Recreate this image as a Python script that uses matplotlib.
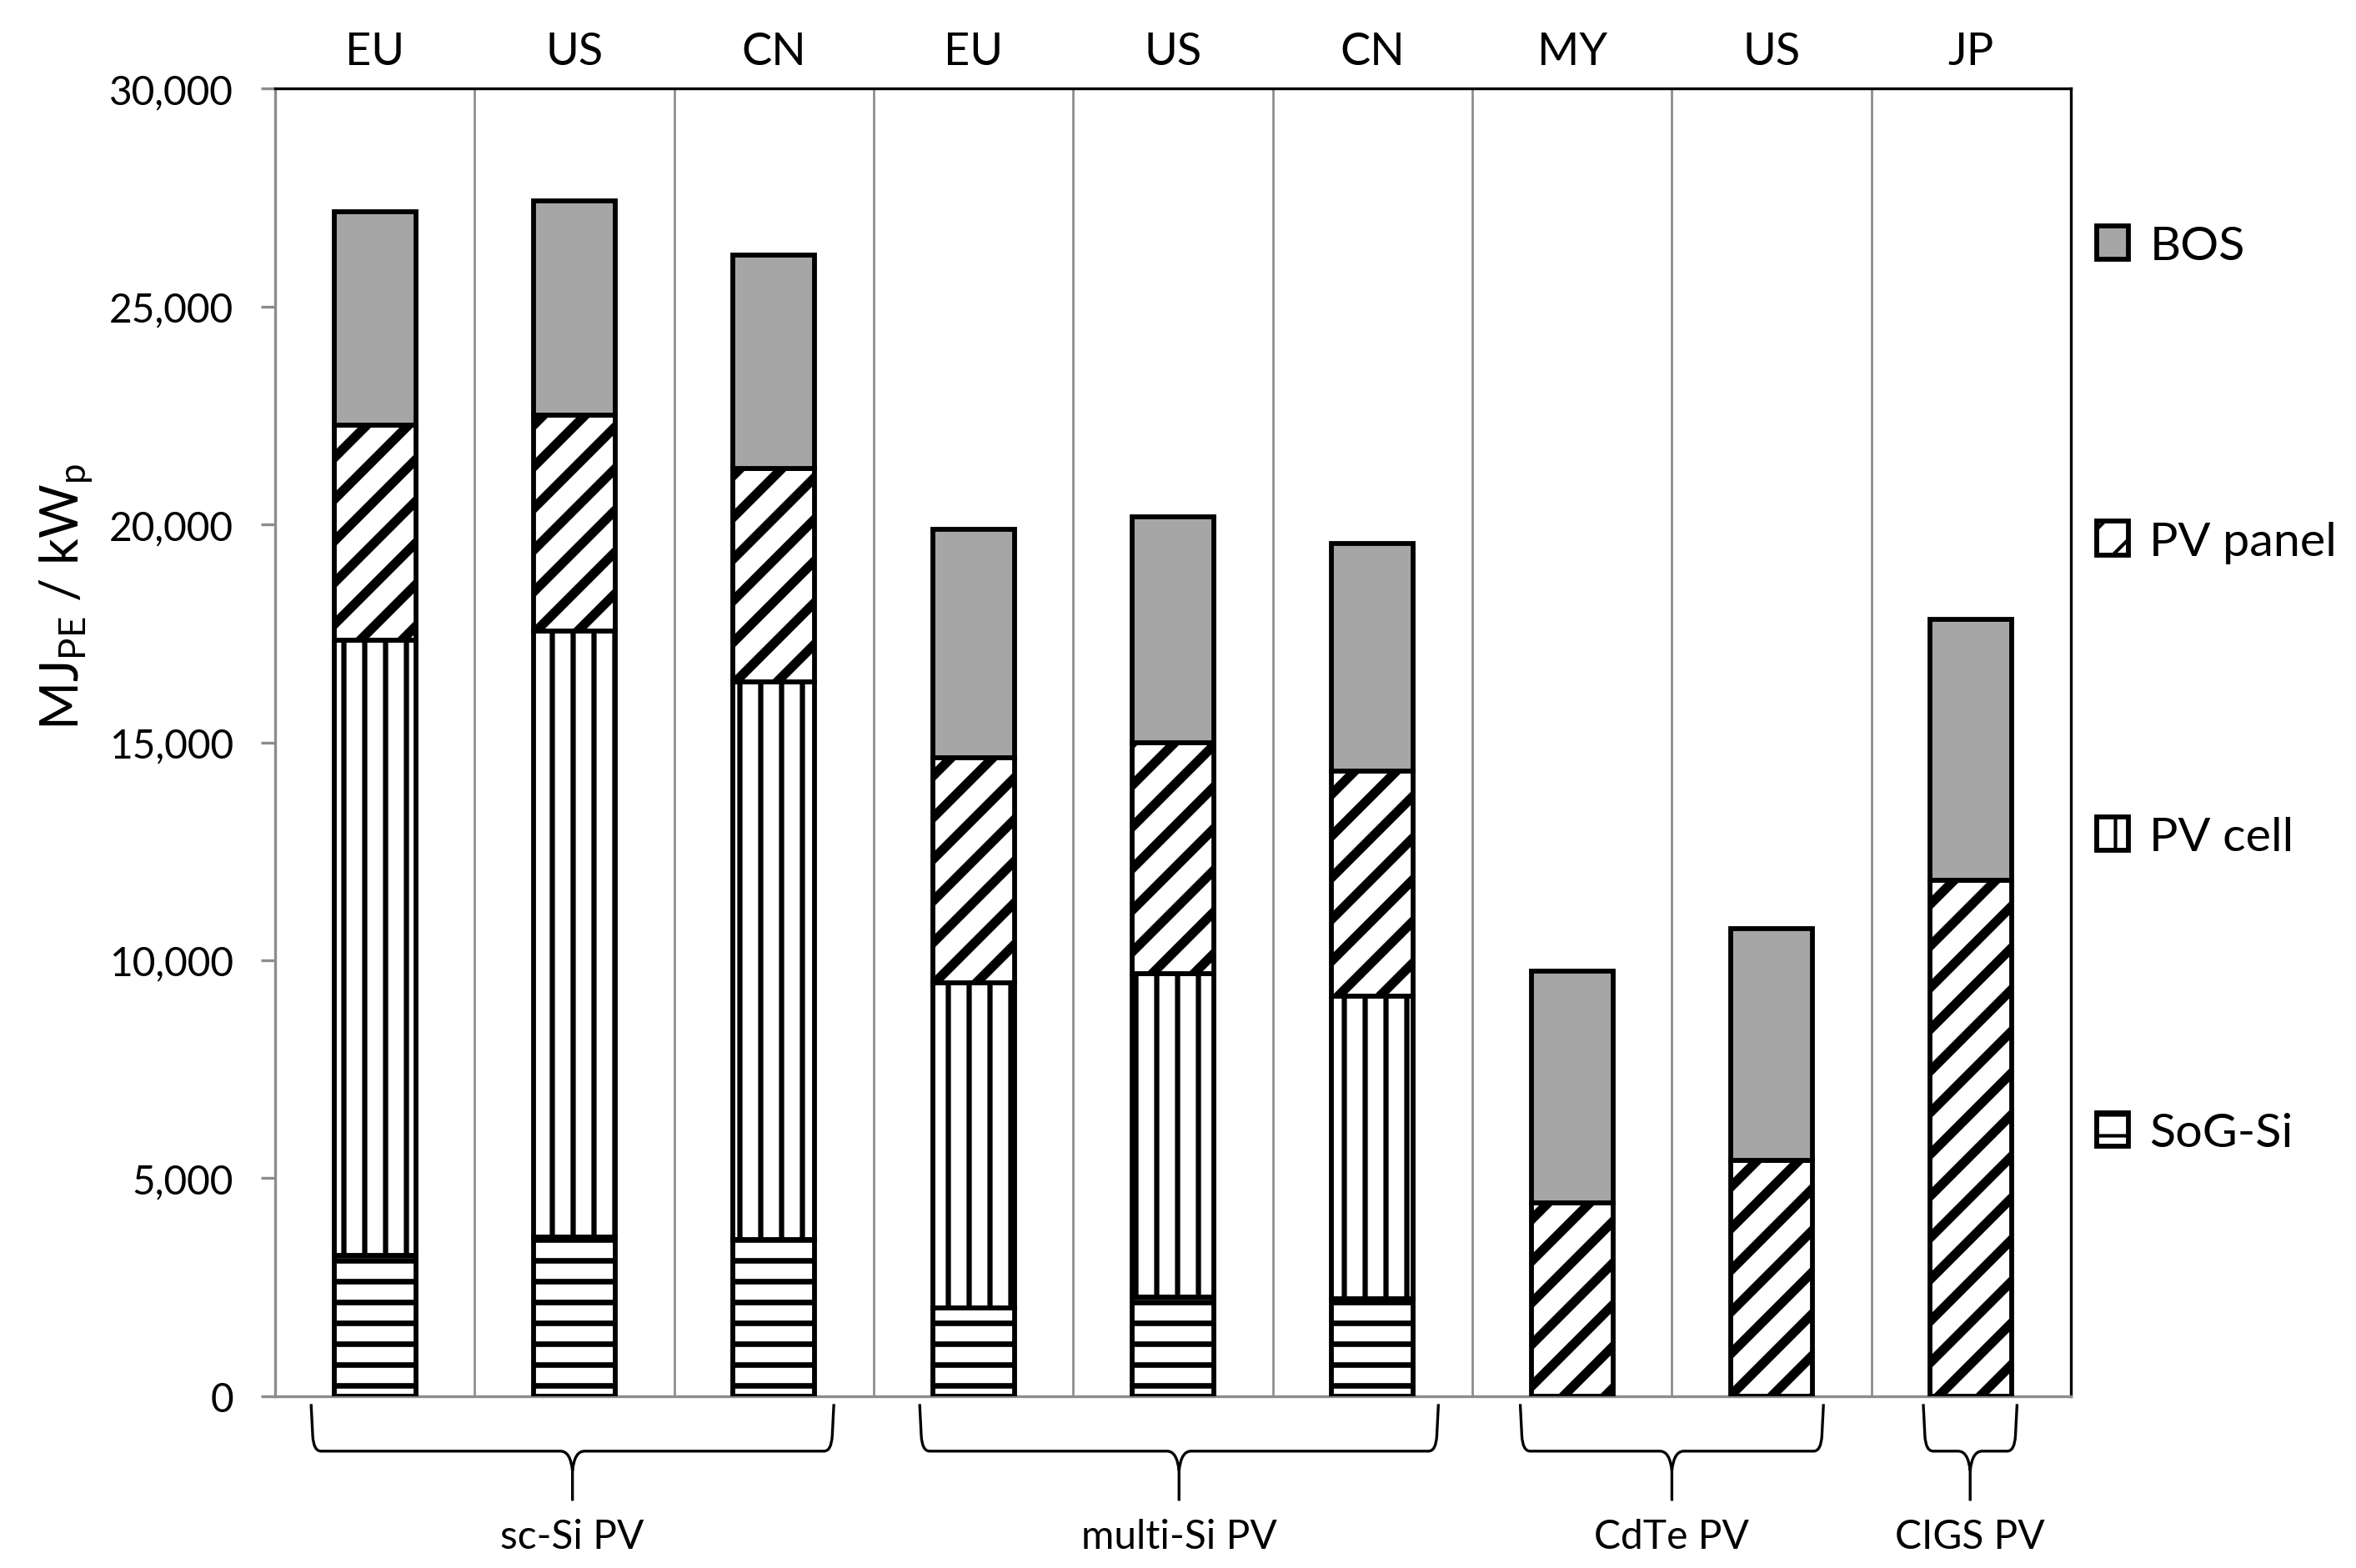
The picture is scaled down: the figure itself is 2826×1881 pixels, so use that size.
import matplotlib
matplotlib.use('Agg')
import matplotlib.pyplot as plt
import numpy as np
from matplotlib.patches import Patch, PathPatch
from matplotlib.path import Path
from matplotlib.transforms import blended_transform_factory
from matplotlib.ticker import FuncFormatter

plt.rcParams['font.family'] = ['Lato', 'DejaVu Sans']
plt.rcParams['mathtext.fontset'] = 'custom'
plt.rcParams['mathtext.rm'] = 'Lato'
plt.rcParams['mathtext.it'] = 'Lato:italic'

# ── Data (MJ_PE / kWp) ──────────────────────────────────────────────────────
countries = ['EU', 'US', 'CN', 'EU', 'US', 'CN', 'MY', 'US', 'JP']
sog_si    = [3240, 3650, 3590, 2030, 2280, 2240, 0, 0, 0]
pv_cell   = [14100, 13900, 12790, 7450, 7410, 6930, 0, 0, 0]
pv_panel  = [4930, 4965, 4900, 5170, 5310, 5175, 4430, 5410, 11830]
bos       = [4900, 4900, 4895, 5240, 5170, 5210, 5330, 5315, 6000]

groups       = ['sc-Si PV', 'multi-Si PV', 'CdTe PV', 'CIGS PV']
group_spans  = [(-0.32, 2.30), (2.73, 5.33), (5.74, 7.26), (7.76, 8.23)]

x = np.arange(len(countries))
width = 0.41
GREY = '#8c8c8c'

fig = plt.figure(figsize=(9.42, 6.273), dpi=300)
ax = fig.add_axes([0.1168, 0.1095, 0.7622, 0.8336])

series = [
    ('SoG-Si',   sog_si,   'white',   '--', 1.6),
    ('PV cell',  pv_cell,  'white',   '||', 1.5),
    ('PV panel', pv_panel, 'white',   '//', 2.7),
    ('BOS',      bos,      '#a6a6a6', None, 1.0),
]

bottom = np.zeros(len(x))
handles = []
for name, vals, fc, hatch, hlw in series:
    vals = np.array(vals, dtype=float)
    with plt.rc_context({'hatch.linewidth': hlw, 'hatch.color': 'black'}):
        bars = ax.bar(x, vals, width, bottom=bottom, color=fc, edgecolor='black',
                      linewidth=1.4, hatch=hatch, zorder=3)
        for p, v in zip(bars, vals):
            if hasattr(p, 'set_hatch_linewidth'):
                p.set_hatch_linewidth(hlw)
            if v == 0:
                p.set_visible(False)
        h = Patch(facecolor=fc, edgecolor='black', linewidth=1.4, hatch=hatch)
        if hasattr(h, 'set_hatch_linewidth'):
            h.set_hatch_linewidth(hlw)
    handles.append((h, name))
    bottom += vals

# category separators
for b in np.arange(0.5, len(x) - 0.5, 1.0):
    ax.axvline(b, color=GREY, linewidth=0.65, zorder=1)

ax.set_xlim(-0.5, len(x) - 0.5)
ax.set_ylim(0, 30000)
ax.set_yticks(np.arange(0, 30001, 5000))
ax.yaxis.set_major_formatter(FuncFormatter(lambda v, p: f'{int(v):,}'))
ax.tick_params(axis='y', direction='out', length=4, width=0.8, color=GREY,
               labelsize=11.5, pad=8)

ax.xaxis.tick_top()
ax.set_xticks(x)
ax.set_xticklabels(countries, fontsize=13)
ax.tick_params(axis='x', length=0, pad=4.8)

for side, col in [('left', GREY), ('bottom', GREY), ('top', 'black'), ('right', 'black')]:
    ax.spines[side].set_color(col)
    ax.spines[side].set_linewidth(0.8)

ax.set_ylabel(r'MJ$_{\mathrm{PE}}$ / kW$_{\mathrm{p}}$', fontsize=15, labelpad=4, y=0.612)

# legend (BOS on top)
leg = fig.legend([h for h, n in handles[::-1]], [n for h, n in handles[::-1]],
                 loc='upper left', bbox_to_anchor=(0.890, 0.856), frameon=False,
                 fontsize=13.8, handlelength=0.65, handleheight=0.7, handletextpad=0.45,
                 labelspacing=5.28, borderpad=0, borderaxespad=0)

# curly braces under groups
trans = blended_transform_factory(ax.transData, ax.transAxes)
yt, yh, ytip = -0.006, -0.042, -0.080
for (x0, x1), name in zip(group_spans, groups):
    xm = (x0 + x1) / 2
    verts = [(x0, yt), (x0 + 0.008, yh + 0.012), (x0 + 0.012, yh), (x0 + 0.05, yh),
             (xm - 0.06, yh), (xm - 0.01, yh), (xm, yh - 0.015), (xm, ytip),
             (xm, yh - 0.015), (xm + 0.01, yh), (xm + 0.06, yh),
             (x1 - 0.05, yh), (x1 - 0.012, yh), (x1 - 0.008, yh + 0.012), (x1, yt)]
    codes = [Path.MOVETO, Path.LINETO, Path.CURVE3, Path.CURVE3,
             Path.LINETO, Path.CURVE3, Path.CURVE3, Path.LINETO,
             Path.MOVETO, Path.CURVE3, Path.CURVE3,
             Path.LINETO, Path.CURVE3, Path.CURVE3, Path.LINETO]
    ax.add_patch(PathPatch(Path(verts, codes), transform=trans, facecolor='none',
                           edgecolor='black', linewidth=0.8, clip_on=False))
    ax.text(xm, -0.107, name, transform=trans, ha='center', va='center', fontsize=11.5)

fig.savefig('out.png', dpi=300)
